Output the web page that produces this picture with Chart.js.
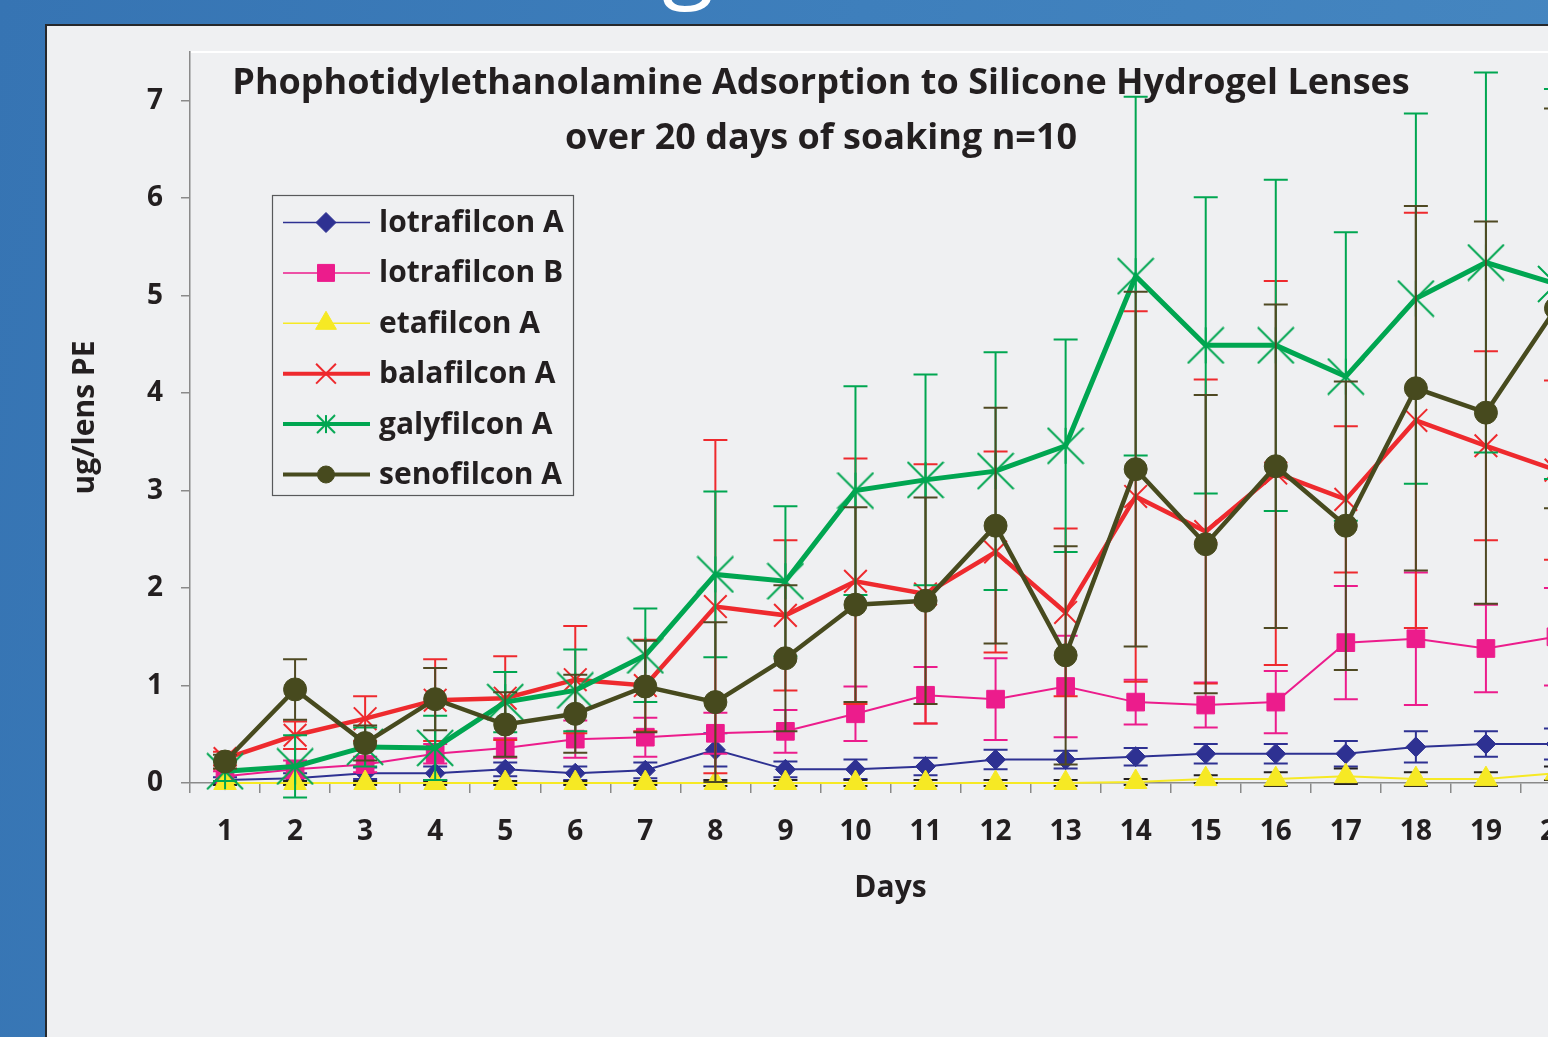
<!DOCTYPE html>
<html>
<head>
<meta charset="utf-8">
<title>Phophotidylethanolamine Adsorption to Silicone Hydrogel Lenses</title>
<script src="https://cdn.jsdelivr.net/npm/chart.js@4.4.1/dist/chart.umd.min.js"></script>
<style>
  html, body { margin: 0; padding: 0; }
  body {
    width: 1548px;
    height: 1037px;
    overflow: hidden;
    position: relative;
    background: linear-gradient(100deg, #3674b3 0%, #3e7fbc 50%, #4687c1 100%);
  }
  .slide-heading {
    position: absolute;
    left: 662px;
    top: -96px;
    color: #fff;
    font: 96px/1 "Open Sans", sans-serif;
  }
  .panel {
    position: absolute;
    left: 45px;
    top: 24px;
    width: 1520px;
    height: 1030px;
    background: #eff0f2;
    border-top: 2px solid #26282b;
    border-left: 2px solid #26282b;
  }
  #chart { position: absolute; left: 0; top: 0; }
</style>
</head>
<body>
<div class="slide-heading">g</div>
<div class="panel"></div>
<canvas id="chart" width="1660" height="1037"></canvas>
<script>
// values (ug/lens), n=10, mean and +/- error
const days = ['1', '2', '3', '4', '5', '6', '7', '8', '9', '10',
              '11', '12', '13', '14', '15', '16', '17', '18', '19', '20'];
const yTicks = [0, 1, 2, 3, 4, 5, 6, 7];

const lotrafilconA    = [0.03, 0.05, 0.10, 0.10, 0.14, 0.10, 0.13, 0.34, 0.14, 0.14, 0.17, 0.24, 0.24, 0.27, 0.30, 0.30, 0.30, 0.37, 0.40, 0.40];
const lotrafilconAErr = [0.03, 0.05, 0.06, 0.07, 0.07, 0.07, 0.08, 0.17, 0.08, 0.10, 0.09, 0.10, 0.09, 0.09, 0.10, 0.10, 0.13, 0.16, 0.13, 0.16];

const lotrafilconB    = [0.07, 0.14, 0.19, 0.30, 0.36, 0.45, 0.47, 0.51, 0.53, 0.71, 0.90, 0.86, 0.99, 0.83, 0.80, 0.83, 1.44, 1.48, 1.38, 1.50];
const lotrafilconBErr = [0.05, 0.09, 0.08, 0.10, 0.10, 0.19, 0.20, 0.21, 0.22, 0.28, 0.29, 0.42, 0.52, 0.23, 0.23, 0.32, 0.58, 0.68, 0.45, 0.50];

const etafilconA      = [0, 0, 0, 0, 0, 0, 0, 0, 0, 0, 0, 0, 0, 0.01, 0.04, 0.04, 0.07, 0.04, 0.04, 0.10];
const etafilconAErr   = [0.02, 0.02, 0.02, 0.02, 0.02, 0.02, 0.02, 0.03, 0.03, 0.03, 0.03, 0.03, 0.03, 0.03, 0.04, 0.07, 0.08, 0.07, 0.07, 0.07];

const balafilconA     = [0.25, 0.49, 0.66, 0.85, 0.87, 1.06, 1.00, 1.81, 1.72, 2.07, 1.94, 2.37, 1.75, 2.94, 2.58, 3.18, 2.91, 3.72, 3.46, 3.21];
const balafilconAErr  = [0.07, 0.14, 0.23, 0.42, 0.43, 0.55, 0.47, 1.71, 0.77, 1.26, 1.33, 1.03, 0.86, 1.90, 1.56, 1.97, 0.75, 2.13, 0.97, 0.92];

const galyfilconA     = [0.12, 0.17, 0.37, 0.36, 0.83, 0.95, 1.31, 2.14, 2.07, 3.00, 3.11, 3.20, 3.46, 5.20, 4.49, 4.49, 4.17, 4.97, 5.34, 5.12];
const galyfilconAErr  = [0.10, 0.32, 0.20, 0.33, 0.31, 0.42, 0.48, 0.85, 0.77, 1.07, 1.08, 1.22, 1.09, 1.84, 1.52, 1.70, 1.48, 1.90, 1.95, 2.00];

const senofilconA     = [0.22, 0.96, 0.41, 0.86, 0.60, 0.71, 0.99, 0.83, 1.28, 1.83, 1.87, 2.64, 1.31, 3.22, 2.45, 3.25, 2.64, 4.05, 3.80, 4.87];
const senofilconAErr  = [0.07, 0.31, 0.18, 0.32, 0.33, 0.40, 0.47, 0.82, 0.75, 1.00, 1.06, 1.21, 1.12, 1.82, 1.53, 1.66, 1.48, 1.87, 1.96, 2.05];

const titleLines = ['Phophotidylethanolamine Adsorption to Silicone Hydrogel Lenses',
                    'over 20 days of soaking n=10'];

const TEXT = '#231f20';
const AXIS = '#8a8a8a';
const FONT = '"Open Sans", Lato, sans-serif';

// Excel style star: an X with a vertical stroke
function starMarker(size, color) {
    const c = document.createElement('canvas');
    c.width = size;
    c.height = size;
    const g = c.getContext('2d');
    g.strokeStyle = color;
    g.lineWidth = 2;
    g.beginPath();
    g.moveTo(1, 1); g.lineTo(size - 1, size - 1);
    g.moveTo(size - 1, 1); g.lineTo(1, size - 1);
    g.moveTo(size / 2, 1); g.lineTo(size / 2, size - 1);
    g.stroke();
    return c;
}

const GREEN = '#00a651';

const datasets = [
    {
        label: 'lotrafilcon A', data: lotrafilconA, errors: lotrafilconAErr,
        borderColor: '#2e3192', borderWidth: 2,
        pointStyle: 'rectRot', pointRadius: 10, legendRadius: 10,
        pointBackgroundColor: '#2e3192', pointBorderColor: '#2e3192', pointBorderWidth: 1,
        errColor: '#2e3192', order: 5
    },
    {
        label: 'lotrafilcon B', data: lotrafilconB, errors: lotrafilconBErr,
        borderColor: '#ec1c8c', borderWidth: 2,
        pointStyle: 'rect', pointRadius: 12.5, legendRadius: 12,
        pointBackgroundColor: '#ec1c8c', pointBorderColor: '#ec1c8c', pointBorderWidth: 1,
        errColor: '#ec1c8c', order: 4
    },
    {
        label: 'etafilcon A', data: etafilconA, errors: etafilconAErr,
        borderColor: '#f6e924', borderWidth: 2,
        pointStyle: 'triangle', pointRadius: 13, legendRadius: 12,
        pointBackgroundColor: '#f6e924', pointBorderColor: '#f6e924', pointBorderWidth: 1,
        errColor: '#231f20', order: 3
    },
    {
        label: 'balafilcon A', data: balafilconA, errors: balafilconAErr,
        borderColor: '#ee2a2e', borderWidth: 4.5,
        pointStyle: 'crossRot', pointRadius: 16, legendRadius: 14,
        pointBackgroundColor: '#ee2a2e', pointBorderColor: '#ee2a2e', pointBorderWidth: 2,
        errColor: '#ee2a2e', order: 2
    },
    {
        label: 'galyfilcon A', data: galyfilconA, errors: galyfilconAErr,
        borderColor: GREEN, borderWidth: 5,
        pointStyle: starMarker(38, GREEN), legendStyle: starMarker(20, GREEN),
        pointRadius: 19, legendRadius: 10,
        pointBackgroundColor: GREEN, pointBorderColor: GREEN, pointBorderWidth: 2,
        errColor: GREEN, order: 1
    },
    {
        label: 'senofilcon A', data: senofilconA, errors: senofilconAErr,
        borderColor: '#474a1e', borderWidth: 4.5,
        pointStyle: 'circle', pointRadius: 11.5, legendRadius: 8.5,
        pointBackgroundColor: '#474a1e', pointBorderColor: '#474a1e', pointBorderWidth: 1,
        errColor: '#4f4923', order: 0
    }
];

// vertical error bars with caps, drawn just under each series' own line
const errorBars = {
    id: 'errorBars',
    beforeDatasetDraw(chart, args) {
        const ds = chart.data.datasets[args.index];
        if (!ds.errors) return;
        const {ctx} = chart;
        const x = chart.scales.x;
        const y = chart.scales.y;
        ctx.save();
        ctx.strokeStyle = ds.errColor;
        ctx.lineWidth = 2;
        ds.data.forEach((v, i) => {
            const px = x.getPixelForValue(i);
            const top = y.getPixelForValue(v + ds.errors[i]);
            const bot = y.getPixelForValue(v - ds.errors[i]);
            ctx.beginPath();
            ctx.moveTo(px, top); ctx.lineTo(px, bot);
            ctx.moveTo(px - 12, top); ctx.lineTo(px + 12, top);
            ctx.moveTo(px - 12, bot); ctx.lineTo(px + 12, bot);
            ctx.stroke();
        });
        ctx.restore();
    }
};

const chartDecor = {
    id: 'chartDecor',
    beforeDatasetsDraw(chart) {
        const {ctx, chartArea} = chart;
        ctx.save();
        ctx.strokeStyle = '#ffffff';
        ctx.lineWidth = 2;
        ctx.beginPath();
        ctx.moveTo(chartArea.left + 1, chartArea.top);
        ctx.lineTo(chartArea.right, chartArea.top);
        ctx.stroke();

        ctx.fillStyle = TEXT;
        ctx.font = 'bold 36px ' + FONT;
        ctx.textAlign = 'center';
        ctx.textBaseline = 'middle';
        ctx.fillText(titleLines[0], 821, 84);
        ctx.fillText(titleLines[1], 821, 139);
        ctx.restore();
    },
    afterDraw(chart) {
        const {ctx} = chart;
        ctx.save();
        ctx.fillStyle = '#eff0f2';
        ctx.fillRect(272, 195, 301, 300);
        ctx.strokeStyle = '#58595b';
        ctx.lineWidth = 1.2;
        ctx.strokeRect(272.5, 195.5, 301, 300);
        chart.data.datasets.forEach((ds, i) => {
            const cy = 222.5 + i * 50.4;
            ctx.strokeStyle = ds.borderColor;
            ctx.lineWidth = ds.borderWidth > 3 ? 4 : 1.5;
            ctx.beginPath();
            ctx.moveTo(283, cy);
            ctx.lineTo(370, cy);
            ctx.stroke();
            ctx.fillStyle = ds.pointBackgroundColor;
            ctx.strokeStyle = ds.pointBorderColor;
            ctx.lineWidth = ds.pointBorderWidth;
            Chart.helpers.drawPoint(ctx, {
                pointStyle: ds.legendStyle || ds.pointStyle,
                radius: ds.legendRadius,
                rotation: 0,
                borderWidth: ds.pointBorderWidth
            }, 326, cy);
            ctx.fillStyle = TEXT;
            ctx.font = 'bold 30px ' + FONT;
            ctx.textAlign = 'left';
            ctx.textBaseline = 'middle';
            ctx.fillText(ds.label, 379, cy + 1);
        });
        ctx.restore();
    }
};

const tickFont = {family: FONT, size: 28, weight: 'bold'};
const axisTitleFont = {family: FONT, size: 30, weight: 'bold'};

new Chart(document.getElementById('chart'), {
    type: 'line',
    data: {
        labels: days,
        datasets: datasets.map(ds => Object.assign({tension: 0, fill: false, clip: false}, ds))
    },
    options: {
        responsive: false,
        animation: false,
        layout: {padding: {left: 0, top: 52, right: 69, bottom: 0}},
        plugins: {
            legend: {display: false},
            tooltip: {enabled: false}
        },
        scales: {
            x: {
                type: 'category',
                offset: true,
                grid: {offset: true, drawOnChartArea: false, tickLength: 10, color: AXIS, lineWidth: 1.5},
                border: {display: true, color: AXIS, width: 1.5},
                ticks: {padding: 22, font: tickFont, color: TEXT, autoSkip: false, maxRotation: 0},
                title: {display: true, text: 'Days', font: axisTitleFont, color: TEXT, padding: {top: 0, bottom: 131}},
                afterFit(scale) {
                    scale.height = 254;
                    scale.paddingLeft = 0;
                    scale.paddingRight = 0;
                }
            },
            y: {
                min: 0,
                max: 7.5,
                grid: {drawOnChartArea: false, tickLength: 9, color: AXIS, lineWidth: 1.5},
                border: {display: true, color: AXIS, width: 1.5},
                ticks: {stepSize: 1, padding: 18, font: tickFont, color: TEXT},
                afterBuildTicks(scale) {
                    scale.ticks = yTicks.map(v => ({value: v}));
                },
                title: {display: true, text: 'ug/lens PE', font: axisTitleFont, color: TEXT, padding: {top: 67, bottom: 0}},
                afterFit(scale) {
                    scale.width = 190;
                    scale.paddingTop = 0;
                    scale.paddingBottom = 0;
                }
            }
        }
    },
    plugins: [errorBars, chartDecor]
});
</script>
</body>
</html>
